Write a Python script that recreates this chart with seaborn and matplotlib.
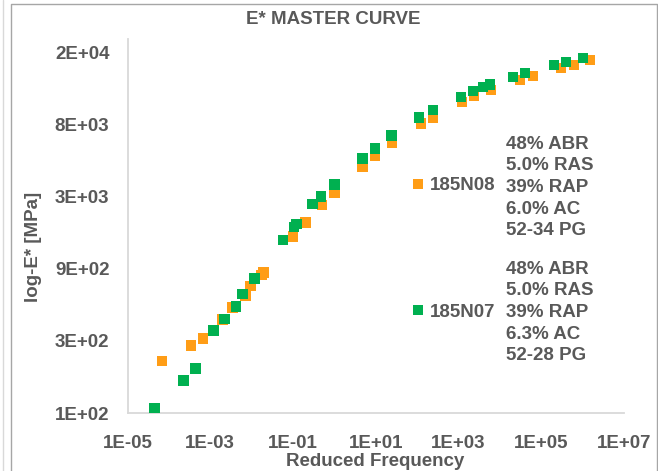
import matplotlib
matplotlib.use("Agg")
import matplotlib.pyplot as plt
import pandas as pd
import seaborn as sns
from matplotlib.lines import Line2D
from matplotlib.ticker import NullLocator

# Dynamic modulus master curves (reduced frequency in Hz, |E*| in MPa)
freq_185n08 = [6.9e-5, 3.46e-4, 6.75e-4, 1.97e-3, 3.44e-3, 7.08e-3, 9.35e-3, 0.0173,
               0.0193, 0.1005, 0.1995, 0.493, 1.0, 4.75, 9.62, 24.8, 126, 246,
               1236, 2410, 6200, 31100, 64100, 304000, 627000, 1.53e6]
mod_185n08 = [222, 280, 311, 416, 500, 598, 696, 824,
              853, 1479, 1823, 2390, 2870, 4270, 5020, 6160, 8270, 9070,
              11460, 12560, 13770, 16030, 17050, 19270, 20170, 21770]

freq_185n07 = [4.49e-5, 2.25e-4, 4.40e-4, 1.19e-3, 2.20e-3, 4.23e-3, 6.0e-3, 0.0117,
               0.0577, 0.104, 0.121, 0.294, 0.478, 1.0, 4.75, 9.62, 24.2, 113,
               242, 1169, 2275, 3970, 5860, 21100, 41100, 206000, 402000, 1.03e6]
mod_185n07 = [108, 164, 197, 352, 419, 507, 616, 778,
              1406, 1697, 1787, 2410, 2710, 3260, 4850, 5650, 6890, 9070,
              10140, 12370, 13550, 14410, 15020, 16780, 17840, 20170, 21100, 22450]

series_names = ["185N08", "185N07"]
mix_notes = ["48% ABR\n5.0% RAS\n39% RAP\n6.0% AC\n52-34 PG",
             "48% ABR\n5.0% RAS\n39% RAP\n6.3% AC\n52-28 PG"]
x_ticks = [1e-5, 1e-3, 1e-1, 1e1, 1e3, 1e5, 1e7]
y_ticks = [100, 300, 900, 2700, 8100, 24300]

palette = {"185N08": "#FF9D16", "185N07": "#00B050"}
TEXT = "#595959"
FS = 13.5

sns.set_theme(style="white")
plt.rcParams["font.family"] = ["Liberation Sans", "DejaVu Sans"]
plt.rcParams["font.weight"] = "bold"

W, H = 658, 471
fig = plt.figure(figsize=(W / 100, H / 100), dpi=100)


def fx(px):
    return px / W


def fy(py):
    return 1 - py / H


ax = fig.add_axes([fx(127.5), fy(413), fx(624) - fx(127.5), fy(39) - fy(413)])

df = pd.DataFrame({
    "freq": freq_185n08 + freq_185n07,
    "modulus": mod_185n08 + mod_185n07,
    "mix": [series_names[0]] * len(freq_185n08) + [series_names[1]] * len(freq_185n07),
})

sns.scatterplot(data=df, x="freq", y="modulus", hue="mix", palette=palette,
                marker="s", s=55, linewidth=0, ax=ax, legend=False, zorder=3)

ax.set_xscale("log")
ax.set_yscale("log", base=3)
ax.set_xlim(1e-5, 1e7)
ax.set_ylim(100, 30000)
ax.set_xticks(x_ticks)
ax.set_xticklabels([f"{v:.0E}" for v in x_ticks])
ax.set_yticks(y_ticks)
ax.set_yticklabels([f"{v:.0E}" for v in y_ticks])
ax.xaxis.set_minor_locator(NullLocator())
ax.yaxis.set_minor_locator(NullLocator())
ax.tick_params(axis="both", length=0, labelsize=FS, labelcolor=TEXT)
ax.tick_params(axis="x", pad=16)
ax.tick_params(axis="y", pad=13)
ax.set_xlabel("")
ax.set_ylabel("")
ax.grid(False)

for side in ("top", "right"):
    ax.spines[side].set_visible(False)
for side in ("left", "bottom"):
    ax.spines[side].set_color("#D9D9D9")
    ax.spines[side].set_linewidth(1.3)

fig.text(fx(333), fy(20), "E* MASTER CURVE", ha="center", va="center",
         fontsize=FS, weight="bold", color=TEXT)
fig.text(fx(375), fy(461), "Reduced Frequency", ha="center", va="center",
         fontsize=FS, weight="bold", color=TEXT)
fig.text(fx(33), fy(247), "log-E* [MPa]", ha="center", va="center", rotation=90,
         fontsize=FS, weight="bold", color=TEXT)

handles = [Line2D([], [], marker="s", ls="", markersize=7.4, markeredgewidth=0,
                  color=palette[n]) for n in series_names]
leg = ax.legend(handles, series_names, loc="upper left",
                bbox_to_anchor=(fx(412), fy(177)), bbox_transform=fig.transFigure,
                frameon=False, borderpad=0, borderaxespad=0, handlelength=0.6,
                handletextpad=0.35, labelspacing=5.85,
                prop={"size": FS, "weight": "bold"}, labelcolor=TEXT)

for note, yc in zip(mix_notes, (187.5, 312.5)):
    fig.text(fx(506), fy(yc), note, ha="left", va="center", fontsize=FS,
             weight="bold", color=TEXT, linespacing=1.36)

# chart frame
fig.add_artist(Line2D([fx(10.5), fx(10.5), fx(657), fx(657)],
                      [fy(480), fy(4), fy(4), fy(480)],
                      transform=fig.transFigure, color="#A6A6A6", lw=1.0))
fig.add_artist(Line2D([fx(3), fx(3)], [fy(480), fy(0)],
                      transform=fig.transFigure, color="#D9D9D9", lw=1.0))

fig.savefig("out.png", dpi=100)
